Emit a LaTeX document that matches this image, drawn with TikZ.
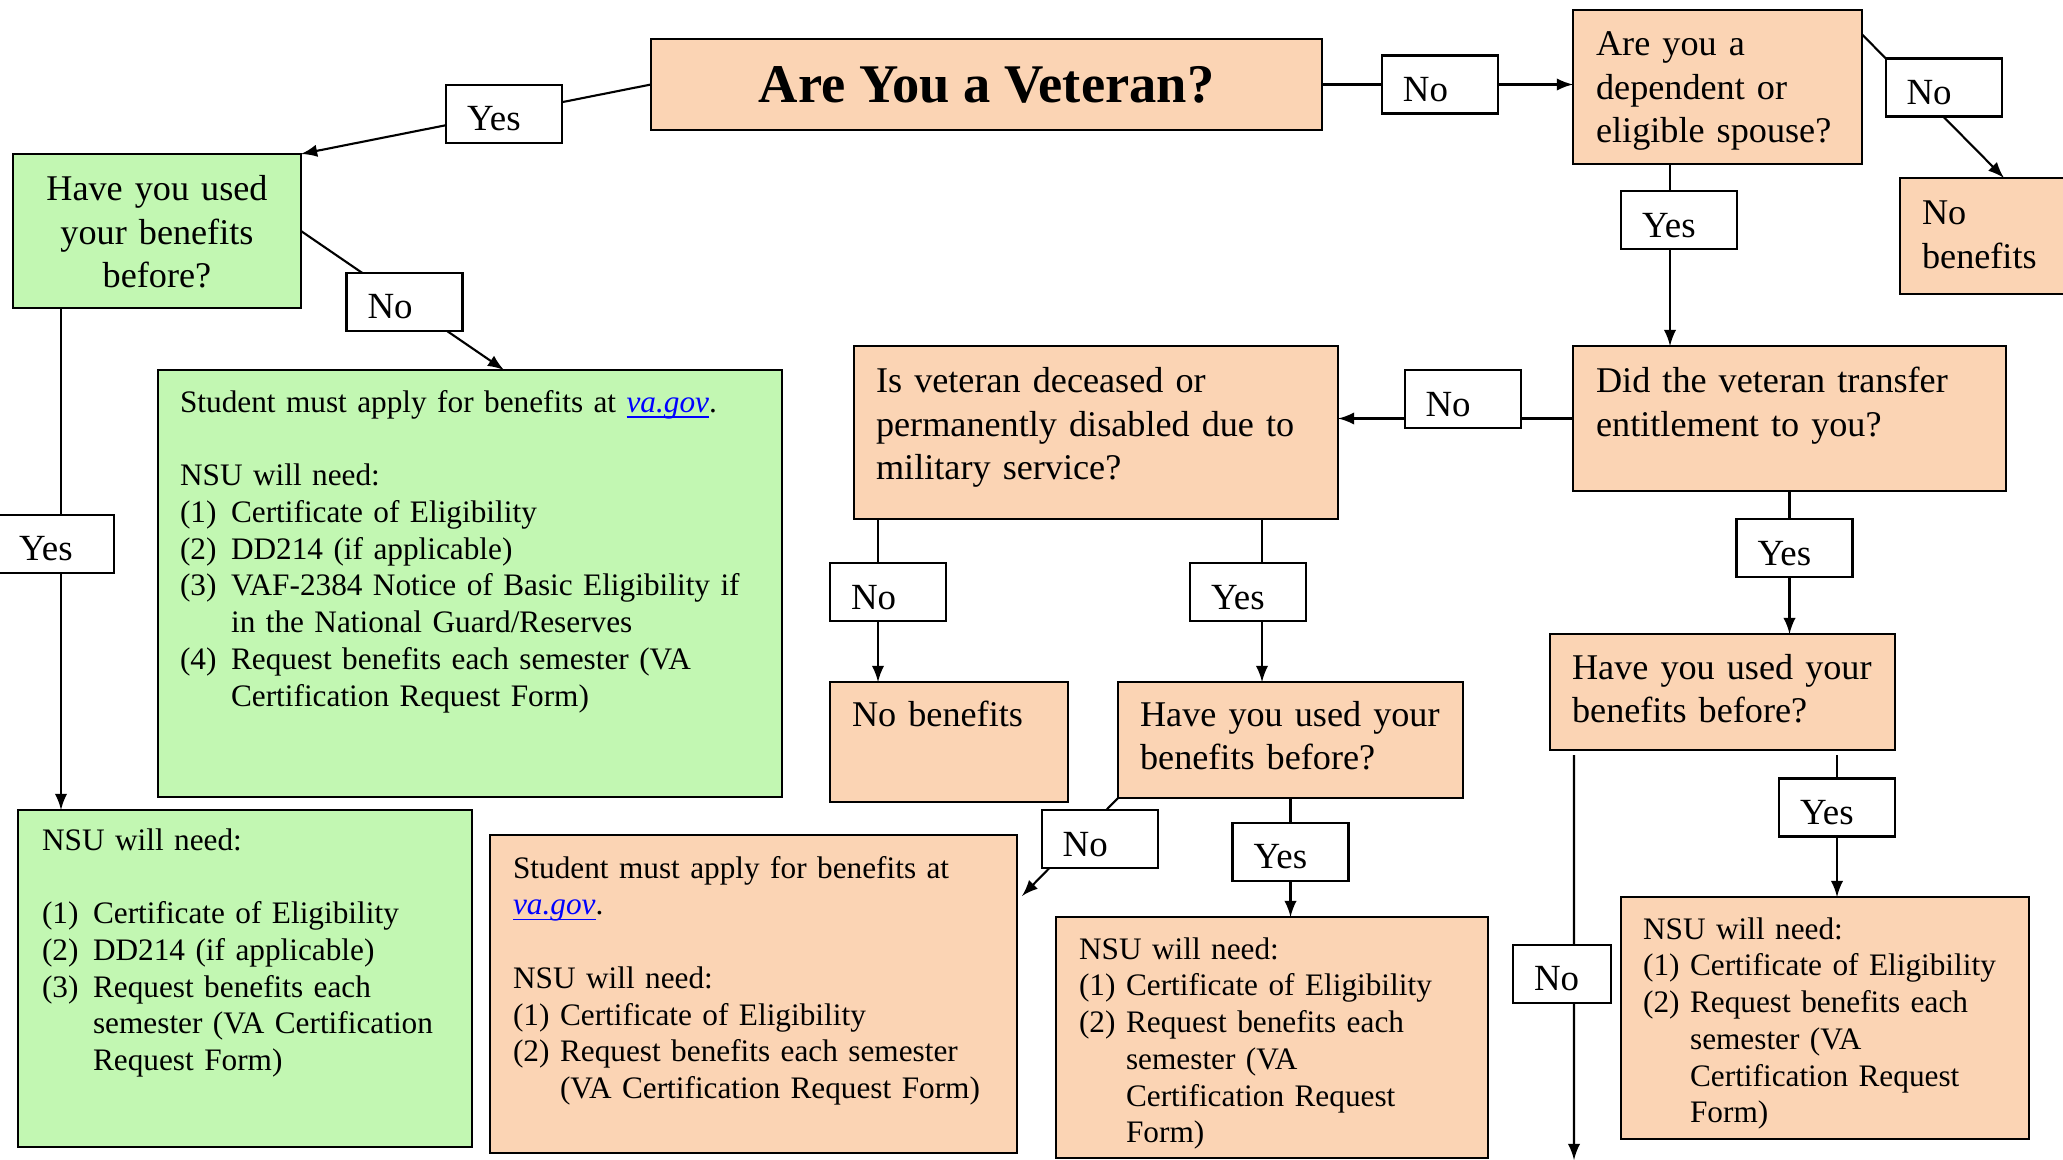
\documentclass[tikz,border=0pt]{standalone}
\usepackage{fontspec}
\setmainfont{Liberation Serif}
\definecolor{peach}{RGB}{251,212,180}
\definecolor{mint}{RGB}{194,247,178}
\newcommand{\qsize}{\fontsize{10.3pt}{12.3pt}\selectfont}
\newcommand{\bsize}{\fontsize{10.5pt}{12.3pt}\selectfont}
\newcommand{\lsize}{\fontsize{8.9pt}{10.47pt}\selectfont}
\newcommand{\lnum}[2][4.7mm]{\makebox[#1][l]{#2}}
\newcommand{\lcont}[1][4.7mm]{\hspace*{#1}}
\newcommand{\vagov}{\textcolor{blue}{\underline{\smash{\textit{va.gov}}}}}
\begin{document}
\begin{tikzpicture}[x=0.1mm,y=-0.1mm,>=latex,line width=0.6pt,
	box/.style={draw=black,inner sep=0pt,outer sep=0pt,anchor=north west},
	obox/.style={box,fill=peach},
	gbox/.style={box,fill=mint},
	lbl/.style={draw=black,fill=white,inner xsep=2.1mm,inner ysep=0pt,outer sep=0pt,text width=7.4mm,align=left,text height=4.6mm,text depth=1.2mm,font=\bsize},
	qtxt/.style={inner sep=0pt,anchor=base west,text width=70mm,align=left,font=\qsize},
	ltxt/.style={qtxt,font=\lsize}]
	\useasboundingbox (0,0) rectangle (2063,1160);
	\node [obox,minimum width=67.1mm,minimum height=9.1mm,font=\fontsize{15.5pt}{18pt}\selectfont\bfseries] at (651,39) (Veteran) {Are You a Veteran?};
        \node [obox,minimum width=28.9mm,minimum height=15.4mm] at (1573,10) (Dependent) {};
        \node [obox,minimum width=17mm,minimum height=11.6mm] at (1900,178) (NoBen1) {};
        \node [obox,minimum width=43.3mm,minimum height=14.5mm] at (1573,346) (Transfer) {};
        \node [obox,minimum width=48.4mm,minimum height=17.3mm] at (854,346) (Deceased) {};
        \node [gbox,minimum width=28.8mm,minimum height=15.4mm] at (13,154) (UsedG) {};
        \node [gbox,minimum width=62.4mm,minimum height=42.7mm] at (158,370) (ApplyG) {};
        \node [gbox,minimum width=45.4mm,minimum height=33.7mm] at (18,810) (NeedG) {};
        \node [obox,minimum width=52.7mm,minimum height=31.8mm] at (490,835) (ApplyO) {};
        \node [obox,minimum width=23.8mm,minimum height=12mm] at (830,682) (NoBen2) {};
        \node [obox,minimum width=34.5mm,minimum height=11.6mm] at (1118,682) (UsedM) {};
        \node [obox,minimum width=43.2mm,minimum height=24.1mm] at (1056,917) (NeedM) {};
        \node [obox,minimum width=34.5mm,minimum height=11.6mm] at (1550,634) (UsedR) {};
        \node [obox,minimum width=40.8mm,minimum height=24.2mm] at (1621,897) (NeedR) {};
	\node [qtxt,xshift=2.2mm,yshift=-4.6mm] at (Dependent.north west) (DependentTxt) {Are you a\\dependent or\\eligible spouse?};
	\node [qtxt,xshift=2.1mm,yshift=-4.7mm] at (NoBen1.north west) (NoBen1Txt) {No\\benefits};
	\node [qtxt,xshift=2.2mm,yshift=-4.7mm] at (Transfer.north west) (TransferTxt) {Did the veteran transfer\\entitlement to you?};
	\node [qtxt,xshift=2.1mm,yshift=-4.7mm] at (Deceased.north west) (DeceasedTxt) {Is veteran deceased or\\permanently disabled due to\\military service?};
	\node [qtxt,anchor=base,align=center,yshift=-4.7mm] at (UsedG.north) (UsedGTxt) {Have you used\\your benefits\\before?};
	\node [ltxt,xshift=2.1mm,yshift=-4.2mm] at (ApplyG.north west) (ApplyGTxt) {Student must apply for benefits at \vagov.\\[\baselineskip]NSU will need:\\\lnum[5.1mm]{(1)}Certificate of Eligibility\\\lnum[5.1mm]{(2)}DD214 (if applicable)\\\lnum[5.1mm]{(3)}VAF-2384 Notice of Basic Eligibility if\\\lcont[5.1mm]in the National Guard/Reserves\\\lnum[5.1mm]{(4)}Request benefits each semester (VA\\\lcont[5.1mm]Certification Request Form)};
	\node [ltxt,xshift=2.3mm,yshift=-4mm] at (NeedG.north west) (NeedGTxt) {NSU will need:\\[\baselineskip]\lnum[5.1mm]{(1)}Certificate of Eligibility\\\lnum[5.1mm]{(2)}DD214 (if applicable)\\\lnum[5.1mm]{(3)}Request benefits each\\\lcont[5.1mm]semester (VA Certification\\\lcont[5.1mm]Request Form)};
	\node [ltxt,xshift=2.2mm,yshift=-4.3mm] at (ApplyO.north west) (ApplyOTxt) {Student must apply for benefits at\\\vagov.\\[\baselineskip]NSU will need:\\\lnum{(1)}Certificate of Eligibility\\\lnum{(2)}Request benefits each semester\\\lcont(VA Certification Request Form)};
	\node [qtxt,xshift=2.1mm,yshift=-4.4mm] at (NoBen2.north west) (NoBen2Txt) {No benefits};
	\node [qtxt,xshift=2.1mm,yshift=-4.4mm] at (UsedM.north west) (UsedMTxt) {Have you used your\\benefits before?};
	\node [ltxt,xshift=2.2mm,yshift=-4.2mm] at (NeedM.north west) (NeedMTxt) {NSU will need:\\\lnum{(1)}Certificate of Eligibility\\\lnum{(2)}Request benefits each\\\lcont semester (VA\\\lcont Certification Request\\\lcont Form)};
	\node [qtxt,xshift=2.1mm,yshift=-4.5mm] at (UsedR.north west) (UsedRTxt) {Have you used your\\benefits before?};
	\node [ltxt,xshift=2.1mm,yshift=-4.2mm] at (NeedR.north west) (NeedRTxt) {NSU will need:\\\lnum{(1)}Certificate of Eligibility\\\lnum{(2)}Request benefits each\\\lcont semester (VA\\\lcont Certification Request\\\lcont Form)};
	\draw [->] (Veteran.west) -- node [lbl,pos=.42] (Yes1) {Yes} (UsedG.north east);
	\draw [->] (Veteran.east) -- node [lbl,pos=.47] (No1) {No} (Veteran.east -| Dependent.west);
	\draw [->] (Dependent.20) -- node [lbl,pos=.37,xshift=2.9mm] (No2) {No} ([xshift=10.4mm]NoBen1.north west);
	\draw [->] ([xshift=-4.75mm]Dependent.south) -- node [lbl,pos=.31,xshift=.9mm] (Yes2) {Yes} ([xshift=-4.75mm]Dependent.south |- Transfer.north);
	\draw [->] (Transfer.west) -- node [lbl,pos=.47,yshift=1.95mm] (No3) {No} (Transfer.west -| Deceased.east);
	\draw [->] (Transfer.south) -- node [lbl,pos=.4,xshift=.5mm] (Yes3) {Yes} (Transfer.south |- UsedR.north);
	\draw [->] ([xshift=2.4mm]Deceased.south west) -- node [lbl,pos=.45,xshift=1mm] (No4) {No} ([xshift=2.4mm]Deceased.south west |- NoBen2.north);
	\draw [->] ([xshift=-7.6mm]Deceased.south east) -- node [lbl,pos=.45,xshift=-1.4mm] (Yes4) {Yes} ([xshift=-7.6mm]Deceased.south east |- UsedM.north);
	\draw [->] (UsedM.south) -- node [lbl,pos=.45] (Yes5) {Yes} (UsedM.south |- NeedM.north);
	\draw [->] (UsedM.south west) -- node [lbl,pos=.42,xshift=2.2mm] (No5) {No} ([xshift=.5mm,yshift=-6.1mm]ApplyO.north east);
	\coordinate (Off) at (1574,1160);
	\draw [->] ([xshift=2.4mm,yshift=-.5mm]UsedR.south west) -- node [lbl,text width=5.6mm,pos=.54,xshift=-1.2mm] (No6) {No} (Off);
	\draw [->] ([xshift=-5.8mm,yshift=-.5mm]UsedR.south east) -- node [lbl,pos=.37] (Yes6) {Yes} ([xshift=-5.8mm]UsedR.south east |- NeedR.north);
	\draw [->] (UsedG.east) -- node [lbl,pos=.51] (No7) {No} ([xshift=34.6mm]ApplyG.north west);
	\draw [->] ([xshift=4.8mm]UsedG.south west) -- node [lbl,pos=.47,xshift=-.5mm] (Yes7) {Yes} ([xshift=4.8mm]UsedG.south west |- NeedG.north);
\end{tikzpicture}
\end{document}
